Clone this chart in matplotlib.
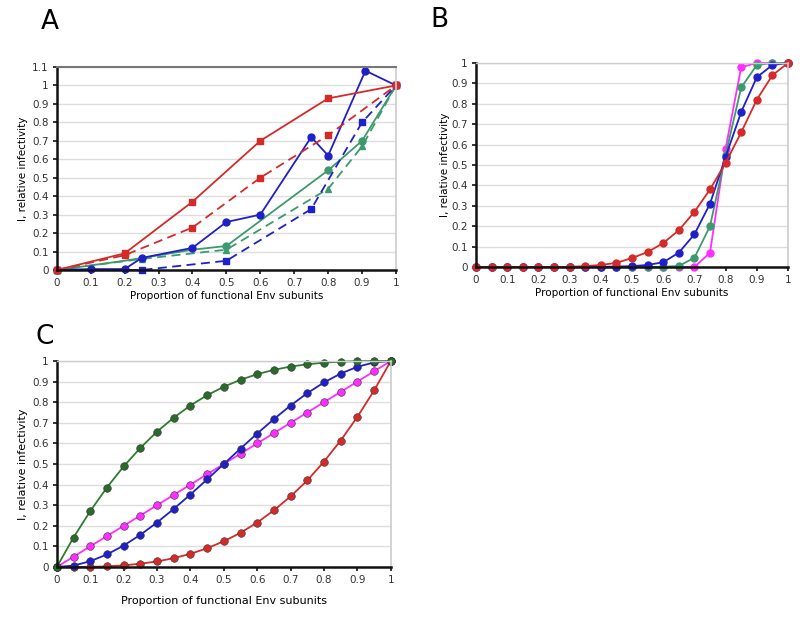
import matplotlib
matplotlib.use("Agg")
import matplotlib.pyplot as plt
import numpy as np

# ---------------- Panel A data ----------------
a_red_solid_x = [0, 0.2, 0.4, 0.6, 0.8, 1.0]
a_red_solid_y = [0, 0.09, 0.37, 0.70, 0.93, 1.0]
a_red_dash_x = [0, 0.2, 0.4, 0.6, 0.8, 1.0]
a_red_dash_y = [0, 0.08, 0.23, 0.50, 0.73, 1.0]
a_blue_solid_x = [0, 0.1, 0.2, 0.25, 0.4, 0.5, 0.6, 0.75, 0.8, 0.91, 1.0]
a_blue_solid_y = [0, 0.005, 0.005, 0.065, 0.12, 0.26, 0.30, 0.72, 0.62, 1.08, 1.0]
a_blue_dash_x = [0, 0.25, 0.5, 0.75, 0.9, 1.0]
a_blue_dash_y = [0, 0.0, 0.05, 0.33, 0.80, 1.0]
a_green_solid_x = [0, 0.2, 0.4, 0.5, 0.8, 0.9, 1.0]
a_green_solid_y = [0, 0.05, 0.11, 0.13, 0.54, 0.70, 1.0]
a_green_dash_x = [0, 0.25, 0.5, 0.8, 0.9, 1.0]
a_green_dash_y = [0, 0.06, 0.11, 0.44, 0.67, 1.0]

# ---------------- Panel B data ----------------
b_x = [0, 0.05, 0.1, 0.15, 0.2, 0.25, 0.3, 0.35, 0.4, 0.45, 0.5,
       0.55, 0.6, 0.65, 0.7, 0.75, 0.8, 0.85, 0.9, 0.95, 1.0]
b_red = [0, 0, 0, 0, 0, 0, 0.001, 0.004, 0.01, 0.02, 0.044,
         0.073, 0.117, 0.18, 0.27, 0.38, 0.51, 0.66, 0.82, 0.94, 1.0]
b_blue = [0, 0, 0, 0, 0, 0, 0, 0, 0.001, 0.002, 0.004,
          0.01, 0.023, 0.07, 0.16, 0.31, 0.54, 0.76, 0.93, 0.99, 1.0]
b_green = [0, 0, 0, 0, 0, 0, 0, 0, 0, 0, 0,
           0, 0.001, 0.005, 0.045, 0.20, 0.55, 0.88, 0.99, 1.0, 1.0]
b_magenta = [0, 0, 0, 0, 0, 0, 0, 0, 0, 0, 0,
             0, 0, 0, 0.0, 0.07, 0.58, 0.98, 1.0, 1.0, 1.0]

# ---------------- Panel C data ----------------
c_x = b_x
c_green = [0, 0.143, 0.271, 0.386, 0.488, 0.578, 0.657, 0.725, 0.784, 0.834, 0.875,
           0.909, 0.936, 0.957, 0.973, 0.984, 0.992, 0.997, 0.999, 1.0, 1.0]
c_magenta = [0, 0.05, 0.10, 0.15, 0.20, 0.25, 0.30, 0.35, 0.40, 0.45, 0.50,
             0.55, 0.60, 0.65, 0.70, 0.75, 0.80, 0.85, 0.90, 0.95, 1.0]
c_blue = [0, 0.007, 0.028, 0.061, 0.104, 0.156, 0.216, 0.282, 0.352, 0.425, 0.50,
          0.575, 0.648, 0.718, 0.784, 0.844, 0.896, 0.939, 0.972, 0.993, 1.0]
c_red = [0, 0.0001, 0.001, 0.003, 0.008, 0.016, 0.027, 0.043, 0.064, 0.091, 0.125,
         0.166, 0.216, 0.275, 0.343, 0.42, 0.512, 0.614, 0.729, 0.857, 1.0]

x_ticks = [0, 0.1, 0.2, 0.3, 0.4, 0.5, 0.6, 0.7, 0.8, 0.9, 1.0]
x_tick_labels = ["0", "0.1", "0.2", "0.3", "0.4", "0.5", "0.6", "0.7", "0.8", "0.9", "1"]
yA_ticks = [0, 0.1, 0.2, 0.3, 0.4, 0.5, 0.6, 0.7, 0.8, 0.9, 1.0, 1.1]
yA_tick_labels = ["0", "0.1", "0.2", "0.3", "0.4", "0.5", "0.6", "0.7", "0.8", "0.9", "1", "1.1"]
y_ticks = x_ticks
y_tick_labels = x_tick_labels

xlabel = "Proportion of functional Env subunits"
ylabel = "I, relative infectivity"

RED = "#d42a2a"
BLUE = "#2020c8"
GREEN_A = "#3d9a6e"
MAG = "#ff2dff"
GREEN_C = "#2f7d2f"

plt.rcParams['font.family'] = ['DejaVu Sans']

fig = plt.figure(figsize=(8.0, 6.17), dpi=100)


def style_axes(ax, ymax, yt, ytl):
    ax.set_xlim(0, 1)
    ax.set_ylim(0, ymax)
    ax.set_xticks(x_ticks)
    ax.set_xticklabels(x_tick_labels, fontsize=7.5, color="#333333")
    ax.set_yticks(yt)
    ax.set_yticklabels(ytl, fontsize=7.5, color="#333333")
    ax.yaxis.grid(True, color="#dddddd", linewidth=1.0)
    ax.set_axisbelow(True)
    for s in ["left", "bottom"]:
        ax.spines[s].set_linewidth(1.8)
        ax.spines[s].set_color("#111111")
    ax.spines["right"].set_color("#cccccc")
    ax.spines["right"].set_linewidth(1.2)
    ax.spines["top"].set_color("#cccccc")
    ax.spines["top"].set_linewidth(1.0)
    ax.tick_params(axis="both", direction="out", length=3, width=1.2, color="#111111", pad=3)


# ---------- A ----------
axA = fig.add_axes([0.071, 0.5624, 0.424, 0.329])
style_axes(axA, 1.1, yA_ticks, yA_tick_labels)
axA.spines["top"].set_color("#777777")
axA.spines["top"].set_linewidth(1.5)
lw = 1.3
axA.plot(a_green_dash_x, a_green_dash_y, color=GREEN_A, ls=(0, (5, 3)), lw=lw, marker="^", ms=5, clip_on=False)
axA.plot(a_green_solid_x, a_green_solid_y, color=GREEN_A, ls="-", lw=lw, marker="o", ms=0, clip_on=False)
axA.plot([0.5, 0.8, 0.9], [0.13, 0.54, 0.70], color=GREEN_A, ls="none", marker="o", ms=5, clip_on=False)
axA.plot(a_blue_dash_x, a_blue_dash_y, color=BLUE, ls=(0, (5, 3)), lw=lw, marker="s", ms=4.5, clip_on=False)
axA.plot(a_blue_solid_x, a_blue_solid_y, color=BLUE, ls="-", lw=lw, marker="o", ms=5, clip_on=False)
axA.plot(a_red_dash_x, a_red_dash_y, color=RED, ls=(0, (5, 3)), lw=lw, marker="s", ms=4.5, clip_on=False)
axA.plot(a_red_solid_x, a_red_solid_y, color=RED, ls="-", lw=lw, marker="s", ms=4.5, clip_on=False)
axA.set_xlabel(xlabel, fontsize=7.5, labelpad=2)
axA.set_ylabel(ylabel, fontsize=7.5, labelpad=3)

# ---------- B ----------
axB = fig.add_axes([0.595, 0.5673, 0.39, 0.3306])
style_axes(axB, 1.0, y_ticks, y_tick_labels)
for ys, c in [(b_magenta, MAG), (b_green, GREEN_A), (b_blue, BLUE), (b_red, RED)]:
    axB.plot(b_x, ys, color=c, lw=1.3, marker="o", ms=5, mec=c, clip_on=False)
axB.set_xlabel(xlabel, fontsize=7.5, labelpad=2)
axB.set_ylabel(ylabel, fontsize=7.5, labelpad=1)

# ---------- C ----------
axC = fig.add_axes([0.071, 0.081, 0.4175, 0.3339])
style_axes(axC, 1.0, y_ticks, y_tick_labels)
for ys, c, mc in [(c_red, RED, RED), (c_magenta, MAG, MAG), (c_blue, BLUE, BLUE), (c_green, GREEN_C, "#2a6a2a")]:
    axC.plot(c_x, ys, color=c, lw=1.3, marker="o", ms=5.5, mfc=mc, mec="#333333", mew=0.4, clip_on=False)
axC.set_xlabel(xlabel, fontsize=8, labelpad=8)
axC.set_ylabel(ylabel, fontsize=8, labelpad=3)

fig.text(0.0625, 0.964, "A", fontsize=19, ha="center", va="center")
fig.text(0.549, 0.968, "B", fontsize=19, ha="center", va="center")
fig.text(0.056, 0.454, "C", fontsize=19, ha="center", va="center")

fig.savefig("out.png", dpi=100)
